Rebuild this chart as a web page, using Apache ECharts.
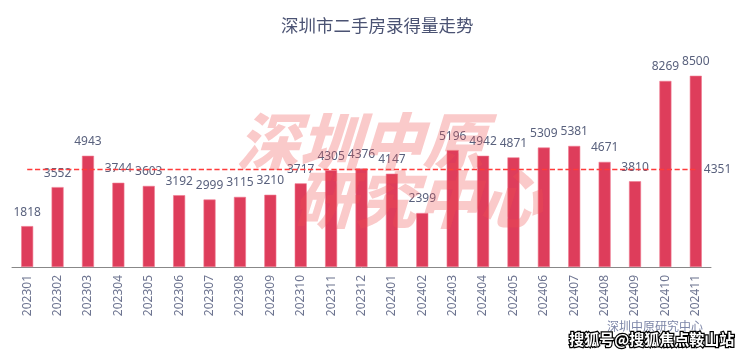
<!DOCTYPE html>
<html><head><meta charset="utf-8">
<script src="https://cdn.jsdelivr.net/npm/echarts@6/dist/echarts.min.js"></script>
<style>html,body{margin:0;padding:0;background:#fff}#c{width:740px;height:356px}</style>
</head><body><div id="c"></div>
<script>
const categories = ['202301','202302','202303','202304','202305','202306','202307','202308','202309','202310','202311','202312','202401','202402','202403','202404','202405','202406','202407','202408','202409','202410','202411'];
const volumes = [1818,3552,4943,3744,3603,3192,2999,3115,3210,3717,4305,4376,4147,2399,5196,4942,4871,5309,5381,4671,3810,8269,8500];
const titleText = '深圳市二手房录得量走势';
const watermark1 = '深圳中原';
const watermark2 = '研究中心';
const sourceText = '深圳中原研究中心';
const credit = '搜狐号@搜狐焦点鞍山站';

const avg = volumes.reduce((a, b) => a + b, 0) / volumes.length;

const chart = echarts.init(document.getElementById('c'));
chart.setOption({
  backgroundColor: '#fff',
  animation: false,
  title: { text: titleText, left: 281, top: 17, padding: 0,
    textStyle: { fontFamily: 'Noto Sans CJK SC', fontSize: 17.5, fontWeight: 'normal', color: '#4b5373' } },
  grid: { left: 12, right: 29, top: 42, bottom: 89 },
  xAxis: { type: 'category', data: categories,
    axisLine: { lineStyle: { color: '#888' } }, axisTick: { show: false },
    axisLabel: { rotate: 90, interval: 0, fontFamily: 'Noto Sans', fontSize: 12, color: '#6e7591', margin: 8 } },
  yAxis: { type: 'value', min: 0, max: 10000, show: false, splitLine: { show: false } },
  series: [{
    type: 'bar', data: volumes, barWidth: 12,
    itemStyle: { color: '#de3d5b', borderColor: '#f07a90', borderWidth: 0.6 },
    label: { show: true, position: 'top', distance: 8, fontFamily: 'Noto Sans', fontSize: 12, color: '#59617d' },
    markLine: { symbol: ['none', 'none'], silent: true, z: 10,
      itemStyle: { color: '#ff3b3b' },
      lineStyle: { type: 'dashed', color: '#ff3b3b', width: 1.3, opacity: 1, dashOffset: 0 },
      label: { position: 'end', distance: 8, fontFamily: 'Noto Sans', fontSize: 12, color: '#59617d',
        formatter: () => String(Math.round(avg)) },
      data: [[
        { coord: [categories[0], avg] },
        { coord: [categories[categories.length - 1], avg] }
      ]] }
  }],
  graphic: [
    { type: 'text', left: 234, top: 110, z: 100, silent: true, skewX: -0.3, originX: 360, originY: 145,
      style: { text: watermark1, font: '900 62px "Noto Sans CJK SC"', fill: 'rgba(240,80,80,0.3)' } },
    { type: 'text', left: 290, top: 168, z: 100, silent: true, skewX: -0.3, originX: 415, originY: 205,
      style: { text: watermark2, font: '900 62px "Noto Sans CJK SC"', fill: 'rgba(240,80,80,0.3)' } },
    { type: 'text', left: 607, top: 320, z: 100, silent: true,
      style: { text: sourceText, font: '12px "Noto Sans CJK SC"', fill: '#7d86a8' } },
    { type: 'text', left: 568, top: 331, z: 101, silent: true,
      style: { text: credit, font: 'bold 15px "Noto Sans CJK SC"', fill: '#fff', stroke: '#000', lineWidth: 2.5 } }
  ]
});
</script></body></html>
